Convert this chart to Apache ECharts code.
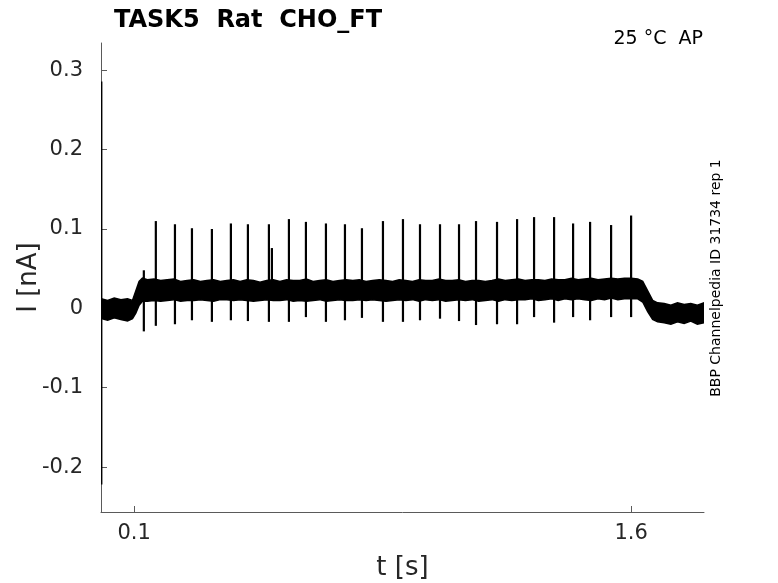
<!DOCTYPE html>
<html lang="en">
<head>
<meta charset="utf-8" />
<title>TASK5 Rat CHO_FT</title>
<style>
  html, body { margin: 0; padding: 0; background: #fff; }
  #chart { width: 778px; height: 583px; }
</style>
</head>
<body>
<div id="chart"></div>
<script src="https://cdn.jsdelivr.net/npm/echarts@6.0.0/dist/echarts.min.js"></script>
<script>
// noise band of the trace: time [s], upper and lower edge [nA]
var envTime = [0.003, 0.02, 0.04, 0.06, 0.08, 0.095, 0.105, 0.115, 0.125,
  0.14, 0.16, 0.18, 0.20, 0.22, 0.24, 0.26, 0.28, 0.30, 0.32, 0.34, 0.36, 0.38, 0.40,
  0.42, 0.44, 0.46, 0.48, 0.50, 0.52, 0.54, 0.56, 0.58, 0.60, 0.62, 0.64, 0.66, 0.68,
  0.70, 0.72, 0.74, 0.76, 0.78, 0.80, 0.82, 0.84, 0.86, 0.88, 0.90, 0.92, 0.94, 0.96,
  0.98, 1.00, 1.02, 1.04, 1.06, 1.08, 1.10, 1.12, 1.14, 1.16, 1.18, 1.20, 1.22, 1.24,
  1.26, 1.28, 1.30, 1.32, 1.34, 1.36, 1.38, 1.40, 1.42, 1.44, 1.46, 1.48, 1.50, 1.52,
  1.54, 1.56, 1.58, 1.60, 1.62,
  1.635, 1.65, 1.665, 1.68, 1.70, 1.72, 1.74, 1.76, 1.78, 1.80, 1.82];
var envUpper = [0.012, 0.010, 0.013, 0.011, 0.012, 0.010, 0.022, 0.034, 0.038,
  0.036, 0.037, 0.035, 0.036, 0.037, 0.034, 0.035, 0.036, 0.034, 0.035, 0.036, 0.034, 0.035, 0.036,
  0.034, 0.036, 0.035, 0.033, 0.035, 0.036, 0.034, 0.036, 0.035, 0.035, 0.037, 0.034, 0.035, 0.036,
  0.034, 0.035, 0.036, 0.035, 0.036, 0.034, 0.035, 0.036, 0.035, 0.034, 0.036, 0.035, 0.034, 0.036,
  0.035, 0.035, 0.037, 0.035, 0.035, 0.036, 0.034, 0.035, 0.035, 0.034, 0.035, 0.037, 0.035, 0.036,
  0.037, 0.035, 0.036, 0.036, 0.035, 0.037, 0.036, 0.036, 0.038, 0.036, 0.037, 0.038, 0.036, 0.037,
  0.038, 0.037, 0.038, 0.038, 0.037,
  0.034, 0.022, 0.010, 0.007, 0.006, 0.004, 0.007, 0.005, 0.006, 0.004, 0.007];
var envLower = [-0.013, -0.015, -0.012, -0.014, -0.016, -0.013, -0.006, 0.004, 0.009,
  0.009, 0.010, 0.009, 0.010, 0.011, 0.009, 0.010, 0.010, 0.011, 0.010, 0.009, 0.011, 0.011, 0.010,
  0.011, 0.010, 0.009, 0.010, 0.011, 0.010, 0.010, 0.011, 0.009, 0.010, 0.009, 0.010, 0.011, 0.009,
  0.010, 0.011, 0.010, 0.010, 0.011, 0.010, 0.011, 0.010, 0.009, 0.010, 0.011, 0.010, 0.011, 0.009,
  0.011, 0.010, 0.011, 0.009, 0.010, 0.011, 0.010, 0.011, 0.009, 0.010, 0.011, 0.009, 0.011, 0.010,
  0.011, 0.011, 0.012, 0.010, 0.011, 0.012, 0.010, 0.012, 0.011, 0.012, 0.011, 0.010, 0.012, 0.011,
  0.013, 0.011, 0.012, 0.012, 0.012,
  0.008, -0.004, -0.014, -0.017, -0.018, -0.020, -0.017, -0.019, -0.016, -0.020, -0.018];

// spikes: time [s], peak and trough [nA] (first one is the capacitive transient)
var spikeTime = [0.002, 0.1293, 0.1655, 0.2232, 0.2745, 0.3347, 0.3920, 0.4434, 0.5068, 0.5158,
  0.5672, 0.6185, 0.6789, 0.7363, 0.7876, 0.8510, 0.9114, 0.9628, 1.0232, 1.0806,
  1.1319, 1.1953, 1.2558, 1.3071, 1.3675, 1.4249, 1.4762, 1.5396, 1.6000];
var spikeTop = [0.286, 0.048, 0.110, 0.106, 0.101, 0.100, 0.107, 0.106, 0.106, 0.076,
  0.1125, 0.109, 0.107, 0.106, 0.101, 0.110, 0.1125, 0.106, 0.106, 0.106,
  0.110, 0.109, 0.1125, 0.115, 0.115, 0.107, 0.109, 0.105, 0.117];
var spikeBottom = [-0.222, -0.029, -0.022, -0.020, -0.015, -0.017, -0.015, -0.016, -0.017, 0.015,
  -0.017, -0.011, -0.017, -0.015, -0.012, -0.017, -0.017, -0.015, -0.013, -0.016,
  -0.021, -0.020, -0.020, -0.011, -0.018, -0.011, -0.015, -0.011, -0.011];

// tick labels
var xTicks = [0.1, 1.6];
var yTicks = [-0.2, -0.1, 0, 0.1, 0.2, 0.3];

var chart = echarts.init(document.getElementById('chart'));

var spikeData = spikeTime.map(function (t, i) {
  return [t, spikeTop[i], spikeBottom[i]];
});

var font = 'DejaVu Sans';
var axisColor = '#5a5a5a';

var option = {
  backgroundColor: '#fff',
  animation: false,
  textStyle: { fontFamily: font },
  title: {
    text: 'TASK5  Rat  CHO_FT',
    left: 109,
    top: 4,
    textStyle: { fontFamily: font, fontSize: 24, fontWeight: 'bold', color: '#000' }
  },
  graphic: [
    {
      type: 'text',
      right: 75,
      top: 30,
      style: { text: '25 °C  AP', font: '19px "DejaVu Sans"', fill: '#000' }
    },
    {
      type: 'text',
      x: 716,
      y: 278,
      rotation: Math.PI / 2,
      style: {
        text: 'BBP Channelpedia ID 31734 rep 1',
        font: '14px "DejaVu Sans"',
        fill: '#000',
        align: 'center',
        verticalAlign: 'middle'
      }
    }
  ],
  grid: { left: 101, right: 74, top: 43, bottom: 71, outerBoundsMode: 'none' },
  xAxis: {
    type: 'value',
    min: 0,
    max: 1.82,
    name: 't [s]',
    nameLocation: 'middle',
    nameGap: 43,
    nameTextStyle: { fontSize: 26, color: '#262626', fontFamily: font },
    axisLine: { show: true, onZero: false, lineStyle: { color: axisColor, width: 1 } },
    axisTick: { show: true, inside: true, length: 6, customValues: xTicks, lineStyle: { color: axisColor } },
    axisLabel: {
      customValues: xTicks,
      fontSize: 21,
      color: '#262626',
      margin: 11,
      formatter: function (v) { return v.toFixed(1); }
    },
    splitLine: { show: false }
  },
  yAxis: {
    type: 'value',
    min: -0.2566,
    max: 0.3344,
    name: 'I [nA]',
    nameLocation: 'middle',
    nameGap: 59,
    nameMoveOverlap: false,
    nameTextStyle: { fontSize: 26, color: '#262626', fontFamily: font },
    axisLine: { show: true, onZero: false, lineStyle: { color: axisColor, width: 1 } },
    axisTick: { show: true, inside: true, length: 6, customValues: yTicks, lineStyle: { color: axisColor } },
    axisLabel: {
      customValues: yTicks,
      fontSize: 21,
      color: '#262626',
      margin: 18,
      formatter: function (v) { return v === 0 ? '0' : v.toFixed(1); }
    },
    splitLine: { show: false }
  },
  series: [
    {
      // noise band as one polygon
      type: 'custom',
      name: 'band',
      clip: true,
      data: [[envTime[0], envUpper[0]]],
      renderItem: function (params, api) {
        var pts = [];
        for (var i = 0; i < envTime.length; i++) {
          pts.push(api.coord([envTime[i], envUpper[i]]));
        }
        for (var j = envTime.length - 1; j >= 0; j--) {
          pts.push(api.coord([envTime[j], envLower[j]]));
        }
        return {
          type: 'polygon',
          shape: { points: pts },
          style: { fill: '#000', stroke: '#000', lineWidth: 1.5 }
        };
      }
    },
    {
      // spikes as vertical strokes
      type: 'custom',
      name: 'spikes',
      clip: true,
      data: spikeData,
      encode: { x: 0, y: [1, 2] },
      renderItem: function (params, api) {
        var p1 = api.coord([api.value(0), api.value(1)]);
        var p2 = api.coord([api.value(0), api.value(2)]);
        return {
          type: 'line',
          shape: { x1: p1[0], y1: p1[1], x2: p2[0], y2: p2[1] },
          style: { stroke: '#000', lineWidth: params.dataIndex === 0 ? 1.5 : 2.2 }
        };
      }
    }
  ]
};

chart.setOption(option);
</script>
</body>
</html>
